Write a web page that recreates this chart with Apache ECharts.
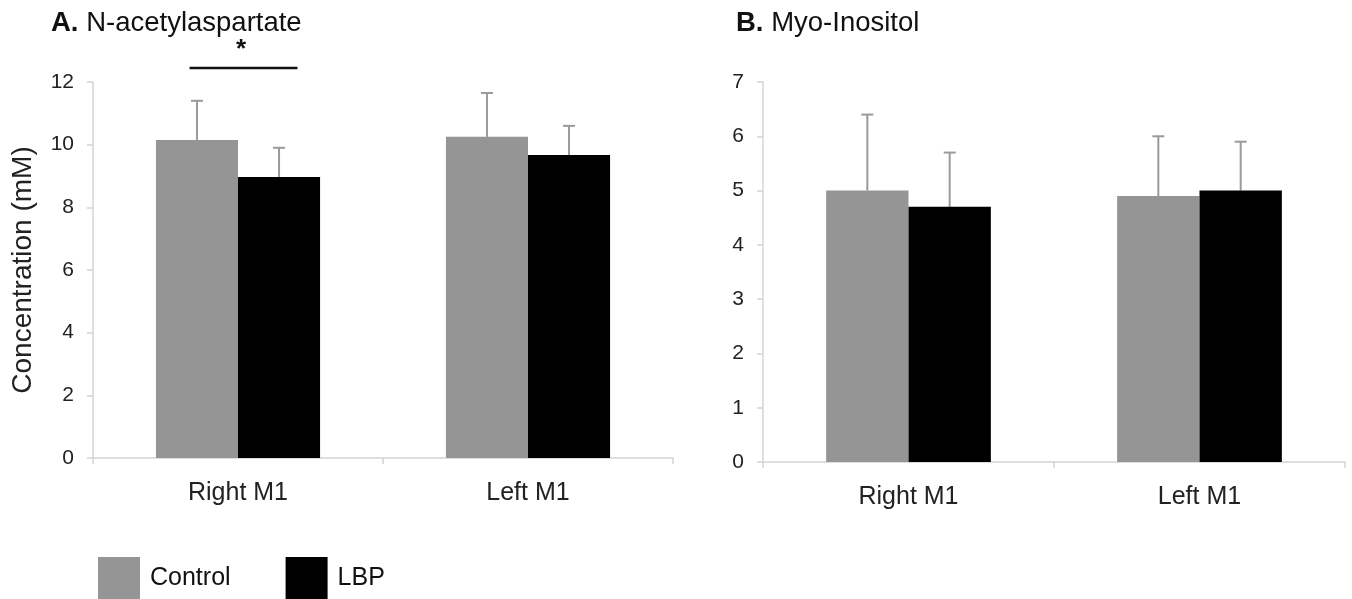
<!DOCTYPE html>
<html>
<head>
<meta charset="utf-8">
<script src="https://cdn.jsdelivr.net/npm/echarts@6/dist/echarts.min.js"></script>
<style>
html,body{margin:0;padding:0;background:#fff;}
#main{width:1352px;height:599px;}
</style>
</head>
<body>
<div id="main"></div>
<script>
// ---- data ----
var categories = ['Right M1', 'Left M1'];
var seriesNames = ['Control', 'LBP'];
// Panel A: N-acetylaspartate (mM)
var naaControl = [10.15, 10.25];
var naaControlErr = [1.25, 1.4];
var naaLBP = [8.97, 9.67];
var naaLBPErr = [0.93, 0.93];
// Panel B: Myo-Inositol (mM)
var miControl = [5.0, 4.9];
var miControlErr = [1.4, 1.1];
var miLBP = [4.7, 5.0];
var miLBPErr = [1.0, 0.9];
// significance marker (panel A, Right M1), level in mM
var sigCategory = 0;
var sigLevel = 12.45;
var sigLabel = '*';
var yTicksA = {min: 0, max: 12, interval: 2};
var yTicksB = {min: 0, max: 7, interval: 1};

var colors = {Control: '#959595', LBP: '#000000'};
var FONT = '"Liberation Sans", Arial, sans-serif';
var BAR_FRAC = 0.283; // bar width as fraction of category

var chart = echarts.init(document.getElementById('main'));

function errSeries(gridIdx, vals, errs, side) {
  var data = vals.map(function (v, i) { return [i, v, errs[i]]; });
  return {
    type: 'custom',
    xAxisIndex: gridIdx, yAxisIndex: gridIdx,
    data: data,
    z: 1,
    clip: false,
    encode: {x: 0, y: 1},
    renderItem: function (params, api) {
      var band = api.size([1, 0])[0];
      var c = api.coord([api.value(0), api.value(1)]);
      var t = api.coord([api.value(0), api.value(1) + api.value(2)]);
      var x = c[0] + side * band * BAR_FRAC / 2;
      var st = {stroke: '#9a9a9a', lineWidth: 2};
      return {
        type: 'group',
        children: [
          {type: 'line', shape: {x1: x, y1: c[1], x2: x, y2: t[1]}, style: st},
          {type: 'line', shape: {x1: x - 6, y1: t[1], x2: x + 6, y2: t[1]}, style: st}
        ]
      };
    }
  };
}

function barSeries(gridIdx, name, vals) {
  return {
    name: name, type: 'bar',
    xAxisIndex: gridIdx, yAxisIndex: gridIdx,
    data: vals,
    barWidth: (BAR_FRAC * 100) + '%',
    barGap: '0%',
    itemStyle: {color: colors[name]},
    z: 2
  };
}

function xAxis(gridIdx) {
  return {
    type: 'category', gridIndex: gridIdx, data: categories,
    axisLine: {lineStyle: {color: '#d4d4d4', width: 1.5}},
    axisTick: {show: true, length: 6, lineStyle: {color: '#d4d4d4', width: 1.5}},
    axisLabel: {color: '#222', fontSize: 25, fontFamily: FONT, margin: 23}
  };
}
function yAxis(gridIdx, ticks, name) {
  return {
    type: 'value', gridIndex: gridIdx,
    min: ticks.min, max: ticks.max, interval: ticks.interval,
    name: name || '',
    nameLocation: 'middle', nameGap: 56,
    nameTextStyle: {color: '#222', fontSize: 28, fontFamily: FONT},
    axisLine: {show: true, lineStyle: {color: '#d4d4d4', width: 1.5}},
    axisTick: {show: true, length: 6, lineStyle: {color: '#d4d4d4', width: 1.5}},
    splitLine: {show: false},
    axisLabel: {color: '#222', fontSize: 21, fontFamily: FONT, margin: 19}
  };
}

var titleStyle = {fontSize: 27.5, fontWeight: 'normal', color: '#111', fontFamily: FONT,
  rich: {b: {fontWeight: 'bold', fontSize: 27.5, color: '#111', fontFamily: FONT}}};

var option = {
  animation: false,
  backgroundColor: '#fff',
  textStyle: {fontFamily: FONT},
  title: [
    {text: '{b|A.} N-acetylaspartate', left: 46, top: 4, textStyle: titleStyle},
    {text: '{b|B.} Myo-Inositol', left: 731, top: 4, textStyle: titleStyle}
  ],
  legend: {
    data: seriesNames,
    left: 93, top: 552,
    itemWidth: 42, itemHeight: 42, itemGap: 55,
    textStyle: {fontSize: 25, color: '#111', fontFamily: FONT, padding: [18, 0, 0, 5]},
    icon: 'rect'
  },
  grid: [
    {left: 93, top: 82, width: 580, height: 376},
    {left: 763, top: 82, width: 582, height: 380}
  ],
  xAxis: [xAxis(0), xAxis(1)],
  yAxis: [yAxis(0, yTicksA, 'Concentration (mM)'), yAxis(1, yTicksB)],
  series: [
    barSeries(0, 'Control', naaControl),
    barSeries(0, 'LBP', naaLBP),
    errSeries(0, naaControl, naaControlErr, -1),
    errSeries(0, naaLBP, naaLBPErr, 1),
    barSeries(1, 'Control', miControl),
    barSeries(1, 'LBP', miLBP),
    errSeries(1, miControl, miControlErr, -1),
    errSeries(1, miLBP, miLBPErr, 1),
    {
      type: 'custom', xAxisIndex: 0, yAxisIndex: 0, clip: false, silent: true,
      data: [[sigCategory, sigLevel]],
      encode: {x: 0, y: 1},
      renderItem: function (params, api) {
        var band = api.size([1, 0])[0];
        var p = api.coord([api.value(0), api.value(1)]);
        return {
          type: 'group',
          children: [
            {type: 'line', shape: {x1: p[0] - band * 0.167, y1: p[1], x2: p[0] + band * 0.205, y2: p[1]},
             style: {stroke: '#111', lineWidth: 2.5}},
            {type: 'text', x: p[0] + 3, y: p[1] - 5,
             style: {text: sigLabel, fontSize: 26, fontWeight: 'bold', fill: '#111',
               fontFamily: FONT, align: 'center', verticalAlign: 'bottom'}}
          ]
        };
      }
    }
  ]
};
chart.setOption(option);
</script>
</body>
</html>
